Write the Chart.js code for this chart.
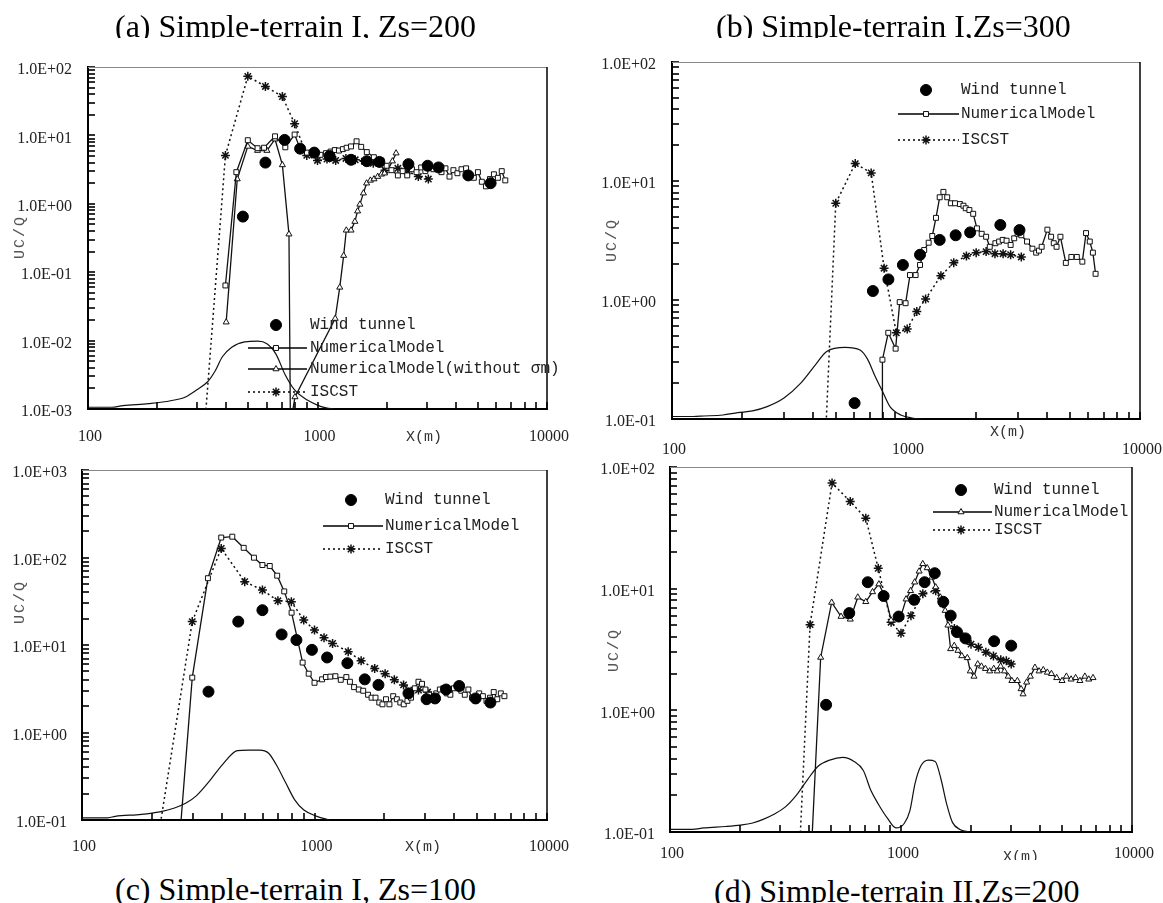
<!DOCTYPE html>
<html lang="en">
<head>
<meta charset="UTF-8" />
<title>UC/Q - simple terrain</title>
<script src="https://cdn.jsdelivr.net/npm/chart.js"></script>
<style>
  body { margin:0; background:#fff; width:1163px; height:903px; position:relative; overflow:hidden; }
  canvas { position:absolute; }
  .clip { position:absolute; overflow:hidden; }
  .cap { position:absolute; font-family:'Liberation Serif','Times New Roman',serif; font-size:32px; line-height:1; white-space:nowrap; color:#000; }
  .xt { position:absolute; font-family:'Liberation Mono',monospace; font-size:15px; color:#333; transform:translate(-50%,-50%); white-space:nowrap; }
  .yt { position:absolute; font-family:'Liberation Mono',monospace; font-size:15px; letter-spacing:2px; color:#555; transform:translate(-50%,-50%) rotate(-90deg); white-space:nowrap; }
</style>
</head>
<body>
<canvas id="ca" width="581" height="460" style="left:0;top:0"></canvas>
<canvas id="cb" width="582" height="470" style="left:581px;top:0"></canvas>
<canvas id="cc" width="581" height="420" style="left:0;top:450px"></canvas>
<canvas id="cd" width="582" height="420" style="left:581px;top:450px"></canvas>

<div class="clip" style="left:0;top:0;width:581px;height:38px"><div class="cap" style="left:115px;top:10px">(a) Simple-terrain I, Zs=200</div></div>
<div class="clip" style="left:581px;top:0;width:582px;height:38px"><div class="cap" style="left:135px;top:10px">(b) Simple-terrain I,Zs=300</div></div>
<div class="cap" style="left:115px;top:873px">(c) Simple-terrain I, Zs=100</div>
<div class="cap" style="left:714px;top:875px">(d) Simple-terrain II,Zs=200</div>

<div class="xt" style="left:424px;top:437px">X(m)</div>
<div class="xt" style="left:1008px;top:432px">X(m)</div>
<div class="xt" style="left:423px;top:847px">X(m)</div>
<div class="clip" style="left:980px;top:840px;width:90px;height:20px"><div class="xt" style="left:41px;top:17px">X(m)</div></div>

<div class="yt" style="left:20px;top:237px">UC/Q</div>
<div class="yt" style="left:612px;top:240px">UC/Q</div>
<div class="yt" style="left:20px;top:602px">UC/Q</div>
<div class="yt" style="left:614px;top:650px">UC/Q</div>

<script>
  // axis ticks
  const xDecades = [100, 1000, 10000];
  const xLabels = ['100', '1000', '10000'];
  const yDecadesA = [0.001, 0.01, 0.1, 1, 10, 100];
  const yLabelsA = ['1.0E-03', '1.0E-02', '1.0E-01', '1.0E+00', '1.0E+01', '1.0E+02'];
  const yDecadesB = [0.1, 1, 10, 100];
  const yLabelsB = ['1.0E-01', '1.0E+00', '1.0E+01', '1.0E+02'];
  const yDecadesC = [0.1, 1, 10, 100, 1000];
  const yLabelsC = ['1.0E-01', '1.0E+00', '1.0E+01', '1.0E+02', '1.0E+03'];

  const names = ['Wind tunnel', 'NumericalModel', 'NumericalModel(without σm)', 'ISCST'];

  // (a) Simple-terrain I, Zs=200   -- [x (m), UC/Q]
  const aWind = [[473,0.65],[593,4.0],[719,8.6],[840,6.4],[968,5.6],[1130,5.0],[1400,4.4],[1640,4.2],[1860,4.1],[2490,3.8],[3020,3.6],[3370,3.4],[4540,2.6],[5680,2.0]];
  const aNum = [[397,0.064],[443,2.9],[497,8.5],[548,6.5],[585,6.6],[653,9.7],[724,6.7],[795,10.3],[840,6.4],[900,5.6],[970,5.4],[1030,5.2],[1090,5.5],[1140,5.8],[1190,6.1],[1240,6.0],[1290,6.3],[1340,6.6],[1400,6.9],[1480,8.2],[1550,6.8],[1640,5.7],[1760,4.8],[1900,4.3],[2000,3.6],[2100,3.1],[2240,2.6],[2350,3.0],[2460,2.6],[2580,3.2],[2700,2.9],[2830,3.4],[2950,3.0],[3070,3.4],[3200,3.2],[3330,3.6],[3470,2.9],[3610,3.3],[3760,2.5],[3910,3.1],[4070,2.8],[4240,3.2],[4440,3.3],[4620,2.6],[4800,2.4],[5000,2.9],[5200,2.1],[5420,1.8],[5640,2.3],[5870,2.7],[6110,2.4],[6350,3.0],[6580,2.2]];
  const aNoSigma = [[400,0.0186],[447,2.3],[497,6.9],[548,6.0],[602,6.0],[653,8.8],[703,3.7],[751,0.36],[762,0.0006],[798,0.0015],[1194,0.021],[1250,0.060],[1300,0.175],[1335,0.41],[1400,0.41],[1455,0.55],[1495,0.78],[1530,0.98],[1585,1.43],[1637,2.0],[1700,2.2],[1763,2.3],[1830,2.5],[1900,2.7],[1960,2.8],[2040,3.3],[2120,4.2],[2200,5.5]];
  const aIsc = [[324,0.0007],[397,5.1],[497,73],[593,52],[703,37],[795,14.8],[898,5.1],[1000,4.3],[1100,4.5],[1200,4.3],[1330,4.6],[1460,4.4],[1600,4.2],[1750,3.9],[1970,3.1],[2240,3.3],[2460,3.0],[2750,2.5],[3040,2.3]];
  const aHill = [[100,0.00106],[127,0.00106],[142,0.00112],[184,0.0012],[229,0.00132],[266,0.0015],[297,0.0019],[332,0.0025],[358,0.0036],[385,0.0058],[423,0.0080],[482,0.0096],[549,0.0098],[602,0.0090],[660,0.0063],[722,0.0032],[795,0.0019],[903,0.00135],[1010,0.00112],[1090,0.00104],[1180,0.001]];

  // (b) Simple-terrain I, Zs=300
  const bWind = [[603,0.136],[722,1.19],[841,1.49],[970,1.97],[1148,2.4],[1393,3.2],[1630,3.5],[1880,3.7],[2530,4.27],[3055,3.87]];
  const bNum = [[793,0.05],[793,0.315],[840,0.53],[903,0.39],[940,0.96],[996,0.94],[1040,1.62],[1099,1.62],[1148,1.97],[1196,2.63],[1250,3.03],[1295,3.45],[1343,4.9],[1393,7.3],[1445,8.1],[1500,7.3],[1555,6.5],[1620,6.5],[1700,6.4],[1760,6.2],[1800,5.9],[1866,5.7],[1937,5.3],[2010,4.0],[2106,3.6],[2200,3.4],[2280,2.8],[2410,3.0],[2500,3.1],[2590,3.2],[2690,3.15],[2800,2.9],[2900,3.3],[3000,3.6],[3110,3.5],[3290,3.1],[3470,2.7],[3600,2.5],[3700,2.6],[3800,2.8],[4020,3.9],[4170,3.4],[4280,3.0],[4400,2.8],[4570,3.4],[4820,2.05],[5090,2.3],[5370,2.3],[5670,2.1],[5880,3.65],[6100,3.1],[6290,2.5],[6460,1.66]];
  const bIsc = [[455,0.085],[501,6.5],[607,14.0],[710,11.7],[806,1.85],[909,0.53],[1012,0.57],[1112,0.8],[1213,1.02],[1410,1.6],[1600,2.06],[1812,2.34],[1995,2.5],[2200,2.55],[2400,2.45],[2600,2.45],[2800,2.4],[3110,2.3]];
  const bHill = [[100,0.105],[123,0.105],[137,0.106],[165,0.108],[191,0.113],[221,0.117],[255,0.127],[301,0.15],[355,0.2],[410,0.285],[458,0.37],[550,0.40],[636,0.38],[684,0.32],[737,0.23],[794,0.17],[854,0.127],[951,0.108],[1060,0.102],[1182,0.1]];

  // (c) Simple-terrain I, Zs=100
  const cWind = [[350,2.93],[470,18.5],[597,25],[722,13.2],[836,11.4],[975,8.8],[1133,7.2],[1385,6.2],[1645,4.05],[1884,3.5],[2536,2.8],[3034,2.4],[3300,2.45],[3680,3.1],[4190,3.4],[4930,2.45],[5710,2.2]];
  const cNum = [[264,0.07],[298,4.24],[348,58],[397,169],[443,173],[496,129],[549,99.5],[597,82],[642,80],[691,62],[741,41],[797,23.4],[889,6.3],[944,4.7],[1000,3.7],[1078,4.05],[1120,4.3],[1170,4.35],[1230,4.4],[1297,4.0],[1371,4.3],[1420,3.8],[1480,3.3],[1550,3.1],[1620,3.0],[1700,2.7],[1760,2.5],[1830,2.5],[1900,2.2],[1960,2.1],[2030,2.4],[2100,2.1],[2180,2.6],[2260,2.4],[2340,2.2],[2420,2.1],[2510,2.3],[2600,2.5],[2700,3.2],[2800,3.8],[2900,3.6],[3000,3.1],[3110,2.7],[3220,2.5],[3340,2.8],[3460,3.1],[3580,3.2],[3710,2.8],[3840,2.7],[3980,3.2],[4130,3.4],[4280,3.0],[4430,2.7],[4590,3.1],[4760,2.5],[4930,2.3],[5110,2.8],[5300,2.6],[5490,2.3],[5690,2.5],[5900,2.9],[6110,2.4],[6330,2.8],[6560,2.6]];
  const cIsc = [[214,0.07],[298,18.5],[397,127],[501,53],[597,42.5],[696,32],[795,31.3],[899,19.3],[1000,14.8],[1099,12.1],[1196,10.4],[1396,8.4],[1587,6.6],[1815,5.4],[2013,4.7],[2205,4.0],[2415,3.5],[2800,3.06],[3065,2.9]];
  const cHill = [[100,0.106],[129,0.106],[139,0.11],[180,0.116],[216,0.124],[250,0.137],[279,0.155],[311,0.19],[354,0.28],[402,0.43],[466,0.62],[519,0.63],[580,0.63],[635,0.58],[684,0.43],[750,0.27],[822,0.17],[900,0.13],[1024,0.11],[1160,0.1]];

  // (d) Simple-terrain II, Zs=200
  const dWind = [[474,1.11],[597,6.3],[718,11.3],[841,8.7],[977,5.9],[1140,8.1],[1265,11.3],[1400,13.4],[1524,7.8],[1641,6.0],[1747,4.4],[1902,3.9],[2530,3.7],[3000,3.4]];
  const dNum = [[406,0.05],[449,2.72],[501,7.7],[550,5.9],[603,5.6],[650,8.5],[704,7.8],[753,9.4],[802,10.9],[857,8.5],[906,5.5],[995,5.8],[1052,8.2],[1100,9.6],[1146,11.3],[1198,13.9],[1242,16],[1298,14.8],[1361,12.4],[1413,10.3],[1480,8.5],[1553,6.6],[1597,5.0],[1640,3.2],[1700,3.4],[1765,3.1],[1833,2.8],[1937,2.7],[1995,2.1],[2070,1.9],[2148,2.4],[2230,2.3],[2320,2.2],[2420,2.1],[2520,2.2],[2610,2.1],[2700,2.3],[2805,2.1],[2911,1.9],[3020,1.75],[3190,1.75],[3310,1.5],[3375,1.36],[3500,1.7],[3630,1.9],[3800,2.25],[3960,2.1],[4130,2.15],[4300,2.05],[4480,2.0],[4720,1.85],[4980,1.75],[5200,1.9],[5450,1.8],[5700,1.85],[5950,1.75],[6250,1.9],[6500,1.8],[6780,1.85]];
  const dIsc = [[366,0.09],[404,5.06],[503,73.9],[603,52],[704,38],[797,14.7],[906,5.3],[1000,4.3],[1104,6.0],[1243,9.1],[1414,9.6],[1520,7.5],[1703,4.7],[1866,4.0],[2010,3.5],[2164,3.3],[2330,3.0],[2513,2.8],[2703,2.6],[2857,2.55],[3000,2.4]];
  const dHill = [[100,0.105],[125,0.105],[140,0.108],[174,0.111],[202,0.114],[226,0.118],[253,0.127],[282,0.14],[315,0.16],[352,0.2],[394,0.27],[440,0.35],[491,0.39],[560,0.41],[626,0.38],[687,0.32],[740,0.22],[797,0.17],[873,0.13],[951,0.108],[1034,0.118],[1093,0.15],[1150,0.25],[1220,0.35],[1313,0.39],[1406,0.38],[1491,0.27],[1576,0.17],[1670,0.12],[1800,0.105],[1970,0.1]];

  const pts = arr => arr.map(p => ({ x: p[0], y: p[1] }));

  function withMinors(decades) {
    const out = [];
    decades.forEach((d, i) => {
      out.push(d);
      if (i < decades.length - 1) [2, 3, 4, 5, 6, 7, 8, 9].forEach(m => out.push(m * d));
    });
    return out;
  }

  function logAxis(decades, labels, o) {
    return {
      type: 'logarithmic',
      position: o.pos,
      min: decades[0],
      max: decades[decades.length - 1],
      afterBuildTicks: s => { s.ticks = withMinors(decades).map(v => ({ value: v })); },
      afterFit: s => {
        if (o.pos === 'bottom') { s.height = o.size; s.paddingLeft = 0; s.paddingRight = 0; }
        else { s.width = o.size; s.paddingTop = 0; s.paddingBottom = 0; }
      },
      // tick marks are drawn inward by the frame plugin; tickLength still sets label offset
      grid: { display: false, drawOnChartArea: false, drawTicks: true, tickLength: -6 },
      border: { display: true, color: '#000', width: 2 },
      ticks: {
        autoSkip: false, maxRotation: 0, minRotation: 0, padding: o.pad, labelOffset: o.off,
        color: '#222', font: { family: "'Liberation Serif', serif", size: 16 },
        callback: v => { const i = decades.indexOf(v); return i < 0 ? '' : labels[i]; }
      }
    };
  }

  const windSet = d => ({ label: names[0], data: pts(d), showLine: false, pointStyle: 'circle', pointRadius: 5.5,
    pointBackgroundColor: '#000', pointBorderColor: '#000', pointBorderWidth: 1 });
  const squareSet = d => ({ label: names[1], data: pts(d), borderColor: '#111', borderWidth: 1.3, pointStyle: 'rect', pointRadius: 3.5,
    pointBackgroundColor: '#fff', pointBorderColor: '#111', pointBorderWidth: 1 });
  const triSet = (d, name) => ({ label: name, data: pts(d), borderColor: '#111', borderWidth: 1.3, pointStyle: 'triangle', pointRadius: 3.5,
    pointBackgroundColor: '#fff', pointBorderColor: '#111', pointBorderWidth: 1 });
  const iscSet = d => ({ label: names[3], data: pts(d), borderColor: '#111', borderWidth: 1.5, borderDash: [2, 3], pointStyle: 'star', pointRadius: 4.5,
    pointBackgroundColor: '#111', pointBorderColor: '#111', pointBorderWidth: 1.5 });
  const hillSet = d => ({ label: 'terrain', data: pts(d), borderColor: '#111', borderWidth: 1.2, pointRadius: 0, cubicInterpolationMode: 'monotone' });

  // inward tick marks plus the top and right edges of the plot box
  const framePlugin = {
    id: 'frame',
    afterDatasetsDraw(chart) {
      const { ctx, chartArea: a, scales } = chart;
      ctx.save();
      ctx.lineWidth = 1.6; ctx.strokeStyle = '#000';
      scales.x.ticks.forEach(t => {
        const p = Math.round(scales.x.getPixelForValue(t.value));
        ctx.beginPath(); ctx.moveTo(p, a.bottom); ctx.lineTo(p, a.bottom - 7); ctx.stroke();
      });
      scales.y.ticks.forEach(t => {
        const p = Math.round(scales.y.getPixelForValue(t.value));
        ctx.beginPath(); ctx.moveTo(a.left, p); ctx.lineTo(a.left + 7, p); ctx.stroke();
      });
      ctx.lineWidth = 1; ctx.strokeStyle = '#888';
      ctx.beginPath(); ctx.moveTo(a.left, a.top + 0.5); ctx.lineTo(a.right, a.top + 0.5); ctx.stroke();
      ctx.lineWidth = 1.5; ctx.strokeStyle = '#000';
      ctx.beginPath(); ctx.moveTo(a.right, a.top); ctx.lineTo(a.right, a.bottom); ctx.stroke();
      ctx.restore();
    }
  };

  // legend drawn inside the plot, line sample + marker + text
  const keyPlugin = {
    id: 'key',
    afterDraw(chart, args, opts) {
      const ctx = chart.ctx;
      const drawPoint = Chart.helpers && Chart.helpers.drawPoint;
      ctx.save();
      opts.items.forEach((idx, k) => {
        const ds = chart.data.datasets[idx];
        const y = opts.rows[k];
        if (ds.showLine !== false) {
          ctx.strokeStyle = '#000'; ctx.lineWidth = ds.borderWidth;
          ctx.setLineDash(ds.borderDash || []);
          ctx.beginPath(); ctx.moveTo(opts.x1, y); ctx.lineTo(opts.x2, y); ctx.stroke();
          ctx.setLineDash([]);
        }
        ctx.fillStyle = ds.pointBackgroundColor; ctx.strokeStyle = ds.pointBorderColor; ctx.lineWidth = ds.pointBorderWidth;
        if (drawPoint) {
          drawPoint(ctx, { pointStyle: ds.pointStyle, radius: ds.pointRadius, borderWidth: ds.pointBorderWidth, rotation: 0 }, opts.mx, y);
        } else {
          ctx.beginPath(); ctx.arc(opts.mx, y, ds.pointRadius, 0, Math.PI * 2); ctx.fill(); ctx.stroke();
        }
        ctx.fillStyle = '#222';
        ctx.font = "16px 'Liberation Mono', monospace";
        ctx.textBaseline = 'middle'; ctx.textAlign = 'left';
        ctx.fillText(ds.label, opts.tx, y);
      });
      ctx.restore();
    }
  };

  function makeChart(id, sets, yDec, yLab, lay, key) {
    return new Chart(document.getElementById(id), {
      type: 'line',
      data: { datasets: sets },
      options: {
        responsive: false, animation: false, events: [],
        layout: { padding: lay.pad },
        scales: {
          x: logAxis(xDecades, xLabels, { pos: 'bottom', size: lay.xh, pad: lay.xp, off: 2 }),
          y: logAxis(yDec, yLab, { pos: 'left', size: lay.yw, pad: lay.yp, off: 3 })
        },
        plugins: { legend: { display: false }, tooltip: { enabled: false }, key: key }
      },
      plugins: [framePlugin, keyPlugin]
    });
  }

  makeChart('ca', [windSet(aWind), squareSet(aNum), triSet(aNoSigma, names[2]), iscSet(aIsc), hillSet(aHill)],
    yDecadesA, yLabelsA,
    { pad: { left: 0, right: 34, top: 67, bottom: 1 }, xh: 50, yw: 88, xp: 24.4, yp: 22 },
    { items: [0, 1, 2, 3], rows: [325, 348, 369, 392], mx: 276, x1: 248, x2: 307, tx: 310 });

  makeChart('cb', [windSet(bWind), squareSet(bNum), iscSet(bIsc), hillSet(bHill)],
    yDecadesB, yLabelsB,
    { pad: { left: 0, right: 23, top: 62, bottom: 1 }, xh: 50, yw: 91, xp: 27.4, yp: 22 },
    { items: [0, 1, 2], rows: [90, 114, 140], mx: 345, x1: 317, x2: 378, tx: 380 });

  makeChart('cc', [windSet(cWind), squareSet(cNum), iscSet(cIsc), hillSet(cHill)],
    yDecadesC, yLabelsC,
    { pad: { left: 0, right: 34, top: 20, bottom: 1 }, xh: 49, yw: 82, xp: 23.4, yp: 21 },
    { items: [0, 1, 2], rows: [50, 76, 99], mx: 351, x1: 323, x2: 383, tx: 385 });

  makeChart('cd', [windSet(dWind), triSet(dNum, names[1]), iscSet(dIsc), hillSet(dHill)],
    yDecadesB, yLabelsB,
    { pad: { left: 0, right: 31, top: 17, bottom: 1 }, xh: 37, yw: 89, xp: 18.4, yp: 21 },
    { items: [0, 1, 2], rows: [40, 62, 80], mx: 380, x1: 352, x2: 411, tx: 413 });
</script>
</body>
</html>
